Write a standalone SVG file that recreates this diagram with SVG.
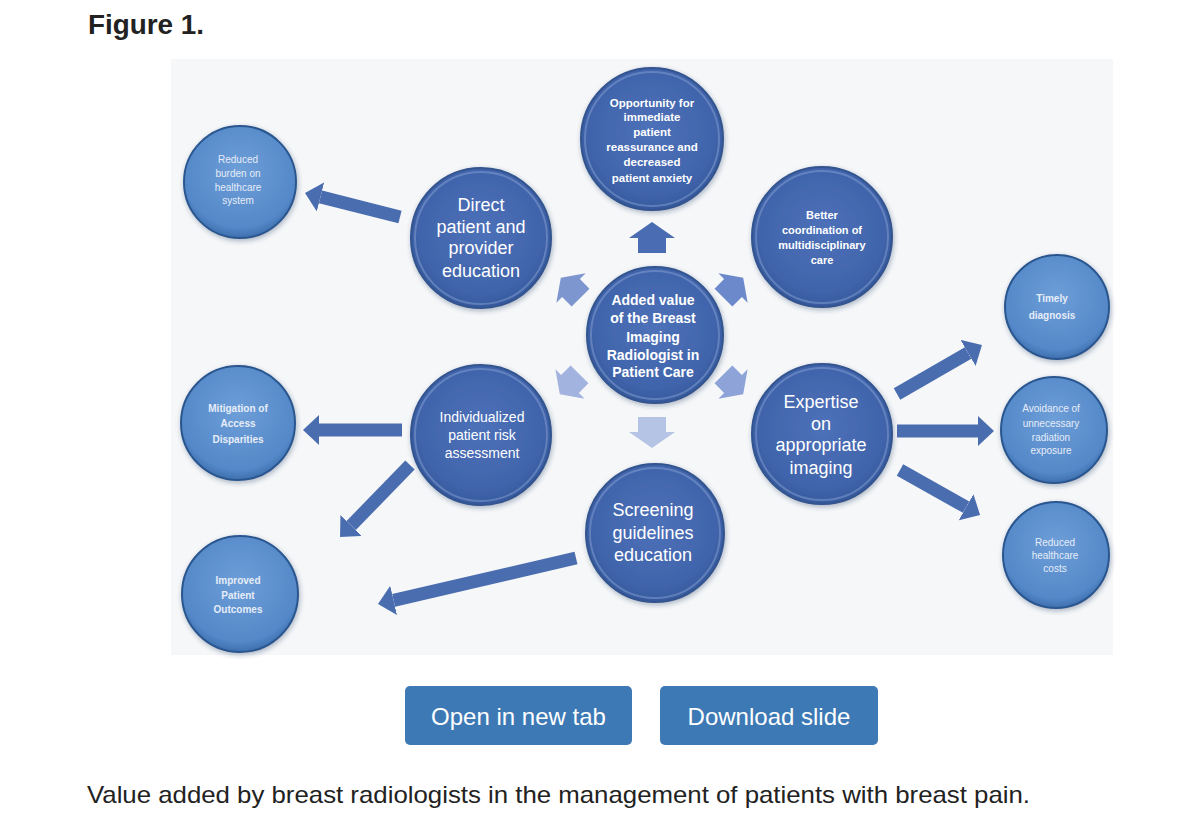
<svg xmlns="http://www.w3.org/2000/svg" width="1200" height="837" viewBox="0 0 1200 837">
<style>
.pg{font-family:"Liberation Sans",Arial,sans-serif;fill:#222}
.btn{fill:#3d79b5}
.btxt{font-family:"Liberation Sans",Arial,sans-serif;font-size:24px;fill:#fff;text-anchor:middle}
.nt{font-family:"Liberation Sans",Arial,sans-serif;fill:#fff;text-anchor:middle}
.big{font-size:18px}
.mid{font-size:14px}
.sm{font-size:11.5px;font-weight:bold}
.xs{font-size:10px;fill:#e6edf8}
.xsb{font-size:10px;font-weight:bold;fill:#e6edf8}
.inner{fill:url(#gIn);stroke:#33548f;stroke-width:2;filter:url(#sh)}
.ring{fill:none;stroke:#8ea8da;stroke-opacity:.45;stroke-width:2}
.outer{fill:url(#gOut);stroke:#2c5790;stroke-width:2;filter:url(#sh)}
.conn line{stroke:#4a6db0;stroke-width:13}
</style>
<defs>
<radialGradient id="gIn" cx="50%" cy="45%" r="55%">
<stop offset="0" stop-color="#4d71b9"/><stop offset="0.8" stop-color="#4064ab"/><stop offset="1" stop-color="#36589c"/>
</radialGradient>
<radialGradient id="gOut" cx="50%" cy="40%" r="60%">
<stop offset="0" stop-color="#6d9ed8"/><stop offset="0.85" stop-color="#5488c8"/><stop offset="1" stop-color="#3e6fae"/>
</radialGradient>
<filter id="sh" x="-20%" y="-20%" width="140%" height="140%">
<feDropShadow dx="1" dy="2" stdDeviation="2.5" flood-color="#1c3560" flood-opacity="0.35"/>
</filter>
<marker id="ah" markerUnits="userSpaceOnUse" markerWidth="16" markerHeight="30" viewBox="0 0 16 30" refX="0" refY="15" orient="auto">
<path d="M0,0 L16,15 L0,30 Z" fill="#4a6db0"/>
</marker>
<path id="blk" d="M0,-16 L23,0 L14,0 L14,15 L-14,15 L-14,0 L-23,0 Z"/>
</defs>

<rect width="1200" height="837" fill="#ffffff"/>
<text class="pg" x="88" y="34" font-size="27" font-weight="bold" textLength="116" lengthAdjust="spacingAndGlyphs">Figure 1.</text>
<rect x="171" y="59" width="942" height="596" fill="#f6f7f8"/>

<g id="connectors" class="conn">
<line x1="400" y1="217" x2="320.5" y2="196.9" marker-end="url(#ah)"/>
<line x1="402" y1="430" x2="319" y2="430" marker-end="url(#ah)"/>
<line x1="410" y1="465" x2="351.2" y2="525.5" marker-end="url(#ah)"/>
<line x1="576" y1="558" x2="393.6" y2="600.4" marker-end="url(#ah)"/>
<line x1="897" y1="394" x2="968.1" y2="353" marker-end="url(#ah)"/>
<line x1="897" y1="431" x2="978" y2="431" marker-end="url(#ah)"/>
<line x1="900" y1="470" x2="966.1" y2="507.2" marker-end="url(#ah)"/>
<use href="#blk" transform="translate(652,238)" fill="#4a6cb3"/>
<use href="#blk" transform="translate(571,288) rotate(-45) scale(0.9)" fill="#7e96d0"/>
<use href="#blk" transform="translate(733,288) rotate(45) scale(0.9)" fill="#6c8acb"/>
<use href="#blk" transform="translate(570,384) rotate(-135) scale(0.9)" fill="#a3b3df"/>
<use href="#blk" transform="translate(733,384) rotate(135) scale(0.9)" fill="#8ea3d8"/>
<use href="#blk" transform="translate(652,432) rotate(180)" fill="#b5c3e5"/>
</g>

<g id="n-burden">
<circle class="outer" cx="240" cy="182" r="56"/>
<text class="nt xs"><tspan x="238" y="162.5">Reduced</tspan><tspan x="238" y="176.5">burden on</tspan><tspan x="238" y="190.5">healthcare</tspan><tspan x="238" y="203.5">system</tspan></text>
</g>
<g id="n-direct">
<circle class="inner" cx="481" cy="238" r="70"/>
<circle class="ring" cx="481" cy="238" r="66"/>
<text class="nt big"><tspan x="481" y="211">Direct</tspan><tspan x="481" y="233">patient and</tspan><tspan x="481" y="254">provider</tspan><tspan x="481" y="277">education</tspan></text>
</g>
<g id="n-opportunity">
<circle class="inner" cx="652" cy="139" r="71"/>
<circle class="ring" cx="652" cy="139" r="67"/>
<text class="nt sm"><tspan x="652" y="107">Opportunity for</tspan><tspan x="652" y="121">immediate</tspan><tspan x="652" y="136">patient</tspan><tspan x="652" y="151">reassurance and</tspan><tspan x="652" y="166">decreased</tspan><tspan x="652" y="182">patient anxiety</tspan></text>
</g>
<g id="n-coordination">
<circle class="inner" cx="822" cy="237" r="70"/>
<circle class="ring" cx="822" cy="237" r="66"/>
<text class="nt sm" style="font-size:11px"><tspan x="822" y="219">Better</tspan><tspan x="822" y="234">coordination of</tspan><tspan x="822" y="249">multidisciplinary</tspan><tspan x="822" y="264">care</tspan></text>
</g>
<g id="n-center">
<circle class="inner" cx="655" cy="335" r="68"/>
<circle class="ring" cx="655" cy="335" r="64"/>
<text class="nt mid" font-weight="bold"><tspan x="653" y="305">Added value</tspan><tspan x="653" y="323">of the Breast</tspan><tspan x="653" y="342">Imaging</tspan><tspan x="653" y="360">Radiologist in</tspan><tspan x="653" y="377">Patient Care</tspan></text>
</g>
<g id="n-expertise">
<circle class="inner" cx="822" cy="434" r="70"/>
<circle class="ring" cx="822" cy="434" r="66"/>
<text class="nt big"><tspan x="821" y="408">Expertise</tspan><tspan x="821" y="430">on</tspan><tspan x="821" y="451">appropriate</tspan><tspan x="821" y="474">imaging</tspan></text>
</g>
<g id="n-screening">
<circle class="inner" cx="655" cy="533" r="69"/>
<circle class="ring" cx="655" cy="533" r="65"/>
<text class="nt big"><tspan x="653" y="516">Screening</tspan><tspan x="653" y="539">guidelines</tspan><tspan x="653" y="561">education</tspan></text>
</g>
<g id="n-individualized">
<circle class="inner" cx="481" cy="435" r="70"/>
<circle class="ring" cx="481" cy="435" r="66"/>
<text class="nt mid"><tspan x="482" y="422">Individualized</tspan><tspan x="482" y="440">patient risk</tspan><tspan x="482" y="458">assessment</tspan></text>
</g>
<g id="n-mitigation">
<circle class="outer" cx="238" cy="423" r="57"/>
<text class="nt xsb"><tspan x="238" y="412">Mitigation of</tspan><tspan x="238" y="427">Access</tspan><tspan x="238" y="443">Disparities</tspan></text>
</g>
<g id="n-outcomes">
<circle class="outer" cx="240" cy="594" r="58"/>
<text class="nt xsb"><tspan x="238" y="584">Improved</tspan><tspan x="238" y="599">Patient</tspan><tspan x="238" y="613">Outcomes</tspan></text>
</g>
<g id="n-timely">
<circle class="outer" cx="1057" cy="307" r="52"/>
<text class="nt xsb"><tspan x="1052" y="302">Timely</tspan><tspan x="1052" y="319">diagnosis</tspan></text>
</g>
<g id="n-avoidance">
<circle class="outer" cx="1054" cy="430" r="53"/>
<text class="nt xs"><tspan x="1051" y="412">Avoidance of</tspan><tspan x="1051" y="427">unnecessary</tspan><tspan x="1051" y="441">radiation</tspan><tspan x="1051" y="454">exposure</tspan></text>
</g>
<g id="n-costs">
<circle class="outer" cx="1056" cy="555" r="53"/>
<text class="nt xs"><tspan x="1055" y="546">Reduced</tspan><tspan x="1055" y="559">healthcare</tspan><tspan x="1055" y="572">costs</tspan></text>
</g>

<g id="btn-open">
<rect class="btn" x="405" y="686" width="227" height="59" rx="5"/>
<text class="btxt" x="518.5" y="725">Open in new tab</text>
</g>
<g id="btn-download">
<rect class="btn" x="660" y="686" width="218" height="59" rx="5"/>
<text class="btxt" x="769" y="725">Download slide</text>
</g>
<text class="pg" x="87" y="803" font-size="24" textLength="943" lengthAdjust="spacingAndGlyphs">Value added by breast radiologists in the management of patients with breast pain.</text>
</svg>
